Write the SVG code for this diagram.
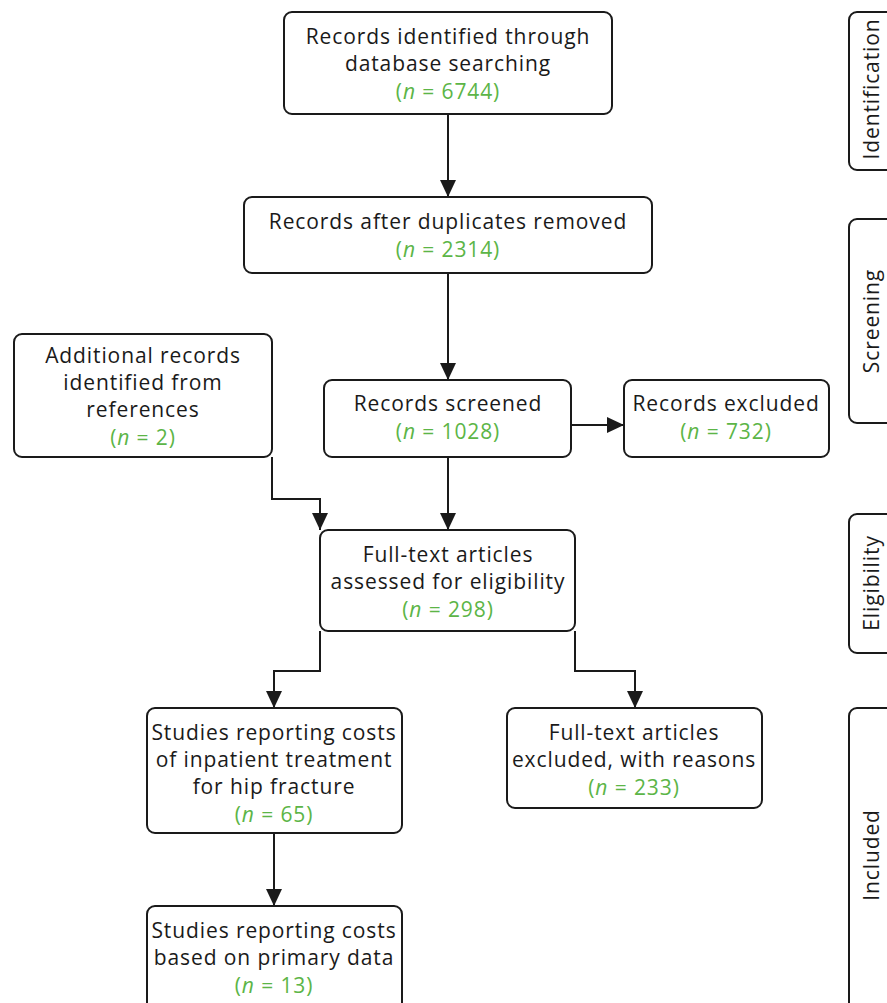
<svg xmlns="http://www.w3.org/2000/svg" width="887" height="1003" viewBox="0 0 887 1003">
<defs>
<style>
.box{fill:#fff;stroke:#1a1a1a;stroke-width:2}
.side{fill:none;stroke:#1a1a1a;stroke-width:2}
.t{font-family:"Open Sans","Liberation Sans",sans-serif;font-size:21px;letter-spacing:0.9px;fill:#1a1a1a;text-anchor:middle}
.n{fill:#5cb547}
.i{font-style:italic}
.c{fill:none;stroke:#1a1a1a;stroke-width:2}
</style>
<marker id="ah" markerUnits="userSpaceOnUse" markerWidth="18" markerHeight="18" viewBox="0 0 18 18" refX="17" refY="9" orient="auto">
<path d="M0,1 L17,9 L0,17 Z" fill="#1a1a1a"/>
</marker>
</defs>
<rect width="887" height="1003" fill="#fff"/>

<g id="connectors">
<path class="c" d="M448,114 V197" marker-end="url(#ah)"/>
<path class="c" d="M448,273 V380" marker-end="url(#ah)"/>
<path class="c" d="M571,425 H624" marker-end="url(#ah)"/>
<path class="c" d="M272,457 V499 H320 V530" marker-end="url(#ah)"/>
<path class="c" d="M448,457 V530" marker-end="url(#ah)"/>
<path class="c" d="M320,631 V671 H274 V708" marker-end="url(#ah)"/>
<path class="c" d="M575,631 V671 H635 V708" marker-end="url(#ah)"/>
<path class="c" d="M274,833 V906" marker-end="url(#ah)"/>
</g>

<g id="identified">
<rect class="box" x="284" y="12" width="328" height="102" rx="8"/>
<text class="t" x="448" y="44">Records identified through</text>
<text class="t" x="448" y="71">database searching</text>
<text class="t n" x="448" y="99">(<tspan class="i">n</tspan> = 6744)</text>
</g>

<g id="dedup">
<rect class="box" x="244" y="197" width="408" height="76" rx="8"/>
<text class="t" x="448" y="229">Records after duplicates removed</text>
<text class="t n" x="448" y="257">(<tspan class="i">n</tspan> = 2314)</text>
</g>

<g id="additional">
<rect class="box" x="14" y="334" width="258" height="123" rx="8"/>
<text class="t" x="143" y="363">Additional records</text>
<text class="t" x="143" y="390">identified from</text>
<text class="t" x="143" y="417">references</text>
<text class="t n" x="143" y="445">(<tspan class="i">n</tspan> = 2)</text>
</g>

<g id="screened">
<rect class="box" x="324" y="380" width="247" height="77" rx="8"/>
<text class="t" x="448" y="411">Records screened</text>
<text class="t n" x="448" y="439">(<tspan class="i">n</tspan> = 1028)</text>
</g>

<g id="excluded">
<rect class="box" x="624" y="380" width="205" height="77" rx="8"/>
<text class="t" x="726" y="411">Records excluded</text>
<text class="t n" x="726" y="439">(<tspan class="i">n</tspan> = 732)</text>
</g>

<g id="fulltext">
<rect class="box" x="320" y="530" width="255" height="101" rx="8"/>
<text class="t" x="448" y="562">Full-text articles</text>
<text class="t" x="448" y="589">assessed for eligibility</text>
<text class="t n" x="448" y="617">(<tspan class="i">n</tspan> = 298)</text>
</g>

<g id="inpatient">
<rect class="box" x="147" y="708" width="255" height="125" rx="8"/>
<text class="t" x="274" y="740">Studies reporting costs</text>
<text class="t" x="274" y="767">of inpatient treatment</text>
<text class="t" x="274" y="794">for hip fracture</text>
<text class="t n" x="274" y="822">(<tspan class="i">n</tspan> = 65)</text>
</g>

<g id="ftexcluded">
<rect class="box" x="507" y="708" width="255" height="100" rx="8"/>
<text class="t" x="634" y="740">Full-text articles</text>
<text class="t" x="634" y="767">excluded, with reasons</text>
<text class="t n" x="634" y="795">(<tspan class="i">n</tspan> = 233)</text>
</g>

<g id="primary">
<rect class="box" x="147" y="906" width="255" height="110" rx="8"/>
<text class="t" x="274" y="938">Studies reporting costs</text>
<text class="t" x="274" y="965">based on primary data</text>
<text class="t n" x="274" y="993">(<tspan class="i">n</tspan> = 13)</text>
</g>

<g id="stage-identification">
<rect class="side" x="849" y="12" width="60" height="158" rx="8"/>
<text class="t" transform="translate(879,89) rotate(-90)">Identification</text>
</g>
<g id="stage-screening">
<rect class="side" x="849" y="219" width="60" height="204" rx="8"/>
<text class="t" transform="translate(879,321) rotate(-90)">Screening</text>
</g>
<g id="stage-eligibility">
<rect class="side" x="849" y="514" width="60" height="139" rx="8"/>
<text class="t" transform="translate(879,583) rotate(-90)">Eligibility</text>
</g>
<g id="stage-included">
<rect class="side" x="849" y="708" width="60" height="310" rx="8"/>
<text class="t" transform="translate(879,855) rotate(-90)">Included</text>
</g>
</svg>
